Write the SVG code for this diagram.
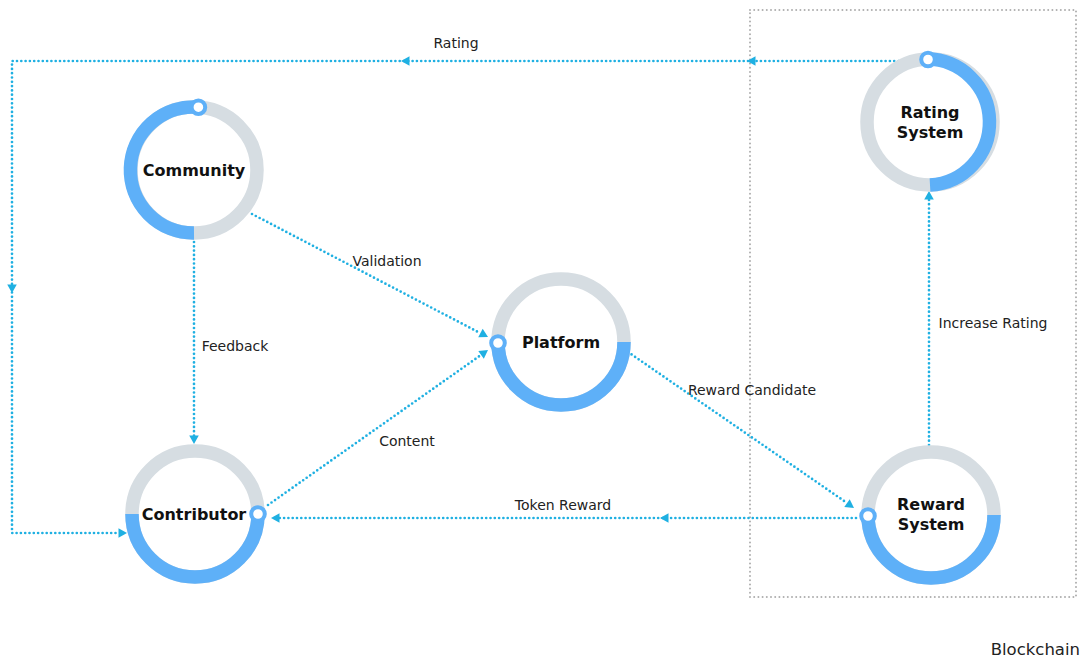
<svg xmlns="http://www.w3.org/2000/svg" xmlns:xlink="http://www.w3.org/1999/xlink" width="1082" height="657" viewBox="0 0 1082 657">
<style>
.bg{fill:#ffffff}
.track{fill:#ffffff;stroke:#d6dde2;stroke-width:13.5}
.prog{fill:none;stroke:#5eb0f8;stroke-width:13.5;stroke-linecap:butt}
.knob{fill:#ffffff;stroke:#5eb0f8;stroke-width:4}
.name{font-family:"DejaVu Sans",sans-serif;font-weight:bold;font-size:16px;fill:#111111;text-anchor:middle}
.lbl{font-family:"DejaVu Sans",sans-serif;font-size:14px;fill:#222222;text-anchor:middle}
.link{fill:none;stroke:#1fb0e2;stroke-width:2.7;stroke-linecap:round;stroke-dasharray:0 4.3}
.head{fill:#1fb0e2}
.zone{fill:none;stroke:#aeaeae;stroke-width:2;stroke-linecap:round;stroke-dasharray:0 4.2}
</style>
<defs>
<path id="ah" d="M0,0 L-8.5,-4.8 L-8.5,4.8 Z"/>
</defs>
<rect class="bg" x="0" y="0" width="1082" height="657"/>

<g id="blockchain">
<rect class="zone" x="750" y="10" width="326" height="587"/>
<text class="lbl" style="font-size:16.5px;text-anchor:end" x="1080" y="655">Blockchain</text>
</g>

<g id="connectors">
<path class="link" d="M920,61 L12,61 L12,533 L119,533"/>
<path class="link" d="M252,214 L480,333"/>
<path class="link" d="M194,242 L194,436"/>
<path class="link" d="M268,505 L481,355"/>
<path class="link" d="M628,352 L847,503"/>
<path class="link" d="M856,518 L279,518"/>
<path class="link" d="M929,445 L929,199"/>
<g class="head">
<use xlink:href="#ah" transform="translate(401,61) rotate(180)"/>
<use xlink:href="#ah" transform="translate(747,61) rotate(180)"/>
<use xlink:href="#ah" transform="translate(12,293) rotate(90)"/>
<use xlink:href="#ah" transform="translate(127,533)"/>
<use xlink:href="#ah" transform="translate(488,337) rotate(27.5)"/>
<use xlink:href="#ah" transform="translate(194,444) rotate(90)"/>
<use xlink:href="#ah" transform="translate(488,350) rotate(-35.2)"/>
<use xlink:href="#ah" transform="translate(854,508) rotate(34.6)"/>
<use xlink:href="#ah" transform="translate(271,518) rotate(180)"/>
<use xlink:href="#ah" transform="translate(660,518) rotate(180)"/>
<use xlink:href="#ah" transform="translate(929,191) rotate(-90)"/>
</g>
<text class="lbl" x="456" y="48">Rating</text>
<text class="lbl" x="387" y="266">Validation</text>
<text class="lbl" x="235" y="351">Feedback</text>
<text class="lbl" x="407" y="446">Content</text>
<text class="lbl" x="752" y="395">Reward Candidate</text>
<text class="lbl" x="563" y="510">Token Reward</text>
<text class="lbl" x="993" y="328">Increase Rating</text>
</g>

<g id="community">
<circle class="track" cx="194" cy="170" r="63"/>
<path class="prog" d="M194,233 A63,63 0 1 1 198.4,107.2"/>
<circle class="knob" cx="198.4" cy="107.2" r="6.8"/>
<text class="name" x="194" y="176">Community</text>
</g>

<g id="platform">
<circle class="track" cx="561" cy="342" r="63"/>
<path class="prog" d="M498,342 A63,63 0 0 0 624,342"/>
<circle class="knob" cx="498" cy="343" r="6.8"/>
<text class="name" x="561" y="348">Platform</text>
</g>

<g id="contributor">
<circle class="track" cx="195" cy="514" r="63"/>
<path class="prog" d="M132,514 A63,63 0 0 0 258,514"/>
<circle class="knob" cx="258" cy="514" r="6.8"/>
<text class="name" x="194" y="520">Contributor</text>
</g>

<g id="rating-system">
<circle class="track" cx="930" cy="122" r="63"/>
<path class="prog" d="M927,59.1 A63,63 0 0 1 930,185"/>
<circle class="knob" cx="928" cy="59.5" r="6.8"/>
<text class="name" x="930" y="118">Rating</text>
<text class="name" x="930" y="138">System</text>
</g>

<g id="reward-system">
<circle class="track" cx="931" cy="515" r="63"/>
<path class="prog" d="M868,515 A63,63 0 0 0 994,515"/>
<circle class="knob" cx="868" cy="516" r="6.8"/>
<text class="name" x="931" y="510">Reward</text>
<text class="name" x="931" y="530">System</text>
</g>
</svg>
